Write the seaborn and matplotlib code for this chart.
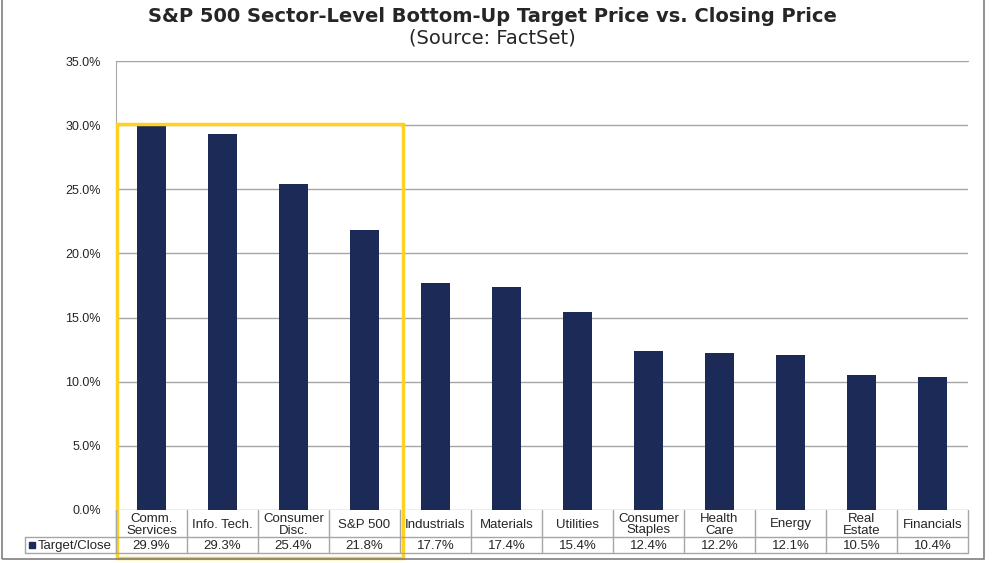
import numpy as np
import pandas as pd
import matplotlib
matplotlib.use("Agg")
import matplotlib.pyplot as plt
from matplotlib.patches import Rectangle
from matplotlib.lines import Line2D
import seaborn as sns

sectors = ["Comm.\nServices", "Info. Tech.", "Consumer\nDisc.", "S&P 500", "Industrials",
           "Materials", "Utilities", "Consumer\nStaples", "Health\nCare", "Energy",
           "Real\nEstate", "Financials"]
target_close = [29.9, 29.3, 25.4, 21.8, 17.7, 17.4, 15.4, 12.4, 12.2, 12.1, 10.5, 10.4]
y_ticks = [0, 5, 10, 15, 20, 25, 30, 35]
series_name = "Target/Close"

navy = "#1b2a57"
grid_grey = "#a6a6a6"
yellow = "#ffd21f"

sns.set_style("white")
plt.rcParams["font.family"] = ["Liberation Sans", "DejaVu Sans"]

W, H = 994, 563
fig = plt.figure(figsize=(W / 100, H / 100), dpi=100)

# plot area in pixels
x0, x1, y_top, y_bot = 116, 968, 61, 510
ax = fig.add_axes([x0 / W, 1 - y_bot / H, (x1 - x0) / W, (y_bot - y_top) / H])

df = pd.DataFrame({"sector": sectors, "value": target_close})
sns.barplot(data=df, x="sector", y="value", color=navy, width=0.4,
            saturation=1, ax=ax, edgecolor="none")

ax.set_ylim(0, 35)
ax.set_xlim(-0.5, len(sectors) - 0.5)
ax.set_yticks(y_ticks)
ax.set_yticklabels([f"{t:.1f}%" for t in y_ticks], fontsize=9)
ax.tick_params(axis="y", length=0, pad=11)
ax.set_xticks([])
ax.set_xlabel("")
ax.set_ylabel("")
ax.yaxis.grid(True, color=grid_grey, linewidth=1)
ax.set_axisbelow(True)
for s in ["right", "bottom"]:
    ax.spines[s].set_visible(False)
ax.spines["left"].set_color(grid_grey)
ax.spines["top"].set_color(grid_grey)

# data table under the axis
def px(x, y):
    return x / W, 1 - y / H

row1_top, row2_top, row2_bot = 510, 537, 553
legend_left = 25
cw = (x1 - x0) / len(sectors)
lw = 1.0
fig.add_artist(Line2D([px(legend_left, 0)[0], px(x1, 0)[0]], [px(0, row2_top)[1]] * 2,
                      color=grid_grey, lw=lw))
fig.add_artist(Line2D([px(legend_left, 0)[0], px(x1, 0)[0]], [px(0, row2_bot)[1]] * 2,
                      color=grid_grey, lw=lw))
fig.add_artist(Line2D([px(legend_left, 0)[0]] * 2, [px(0, row2_top)[1], px(0, row2_bot)[1]],
                      color=grid_grey, lw=lw))
for i in range(len(sectors) + 1):
    xx = x0 + i * cw
    fig.add_artist(Line2D([px(xx, 0)[0]] * 2, [px(0, row1_top)[1], px(0, row2_bot)[1]],
                          color=grid_grey, lw=lw))
for i, (name, v) in enumerate(zip(sectors, target_close)):
    cx = x0 + (i + 0.5) * cw
    fig.text(*px(cx, (row1_top + row2_top) / 2 + 1), name, ha="center", va="center",
             fontsize=9.5, linespacing=1.0)
    fig.text(*px(cx, (row2_top + row2_bot) / 2 + 1), f"{v:.1f}%", ha="center", va="center",
             fontsize=9.5)
fig.add_artist(Rectangle(px(29, 548), 6 / W, 6 / H, color=navy))
fig.text(*px(38, (row2_top + row2_bot) / 2 + 1), series_name, ha="left", va="center",
         fontsize=9.5)

# highlight box around the first four columns
fig.add_artist(Rectangle(px(117, 558), (403 - 117) / W, (558 - 124) / H, fill=False,
                         edgecolor=yellow, lw=2.5))

# outer frame
fig.add_artist(Rectangle(px(2, 559), (984 - 2) / W, 559 / H + 0.01, fill=False,
                         edgecolor="#7f7f7f", lw=1.2))

fig.text(*px(492, 16), "S&P 500 Sector-Level Bottom-Up Target Price vs. Closing Price",
         ha="center", va="center", fontsize=14, fontweight="bold", family="DejaVu Sans")
fig.text(*px(492, 38), "(Source: FactSet)", ha="center", va="center", fontsize=14,
         family="DejaVu Sans")

fig.savefig("out.png", dpi=100)
